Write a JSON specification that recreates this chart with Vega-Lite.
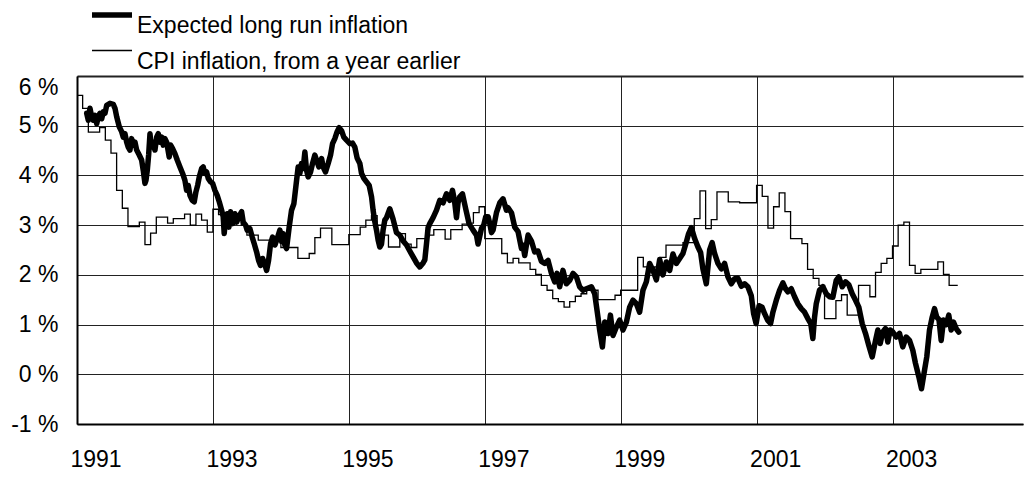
{
"$schema": "https://vega.github.io/schema/vega-lite/v6.json",
"width": 946, "height": 348,
"autosize": {"type": "none"},
"padding": {"left": 77, "top": 76, "right": 1, "bottom": 54},
"config": {"view": {"stroke": null}, "font": "Liberation Sans"},
"datasets": {
"cpi": [
{"t":1991.000,"v":5.61},{"t":1991.083,"v":5.35},{"t":1991.167,"v":4.87},{"t":1991.250,"v":4.87},{"t":1991.333,"v":4.96},{"t":1991.417,"v":4.71},{"t":1991.500,"v":4.45},{"t":1991.583,"v":3.70},{"t":1991.667,"v":3.34},{"t":1991.750,"v":2.97},{"t":1991.833,"v":2.97},{"t":1991.917,"v":3.06},
{"t":1992.000,"v":2.61},{"t":1992.083,"v":2.84},{"t":1992.167,"v":3.16},{"t":1992.250,"v":3.16},{"t":1992.333,"v":3.04},{"t":1992.417,"v":3.13},{"t":1992.500,"v":3.13},{"t":1992.583,"v":3.22},{"t":1992.667,"v":3.00},{"t":1992.750,"v":3.22},{"t":1992.833,"v":3.10},{"t":1992.917,"v":2.86},
{"t":1993.000,"v":3.32},{"t":1993.083,"v":3.21},{"t":1993.167,"v":3.10},{"t":1993.250,"v":3.20},{"t":1993.333,"v":3.20},{"t":1993.417,"v":3.00},{"t":1993.500,"v":2.80},{"t":1993.583,"v":2.80},{"t":1993.667,"v":2.70},{"t":1993.750,"v":2.70},{"t":1993.833,"v":2.70},{"t":1993.917,"v":2.70},
{"t":1994.000,"v":2.55},{"t":1994.083,"v":2.55},{"t":1994.167,"v":2.55},{"t":1994.250,"v":2.33},{"t":1994.333,"v":2.33},{"t":1994.417,"v":2.43},{"t":1994.500,"v":2.75},{"t":1994.583,"v":2.94},{"t":1994.667,"v":2.94},{"t":1994.750,"v":2.61},{"t":1994.833,"v":2.61},{"t":1994.917,"v":2.61},
{"t":1995.000,"v":2.81},{"t":1995.083,"v":2.81},{"t":1995.167,"v":2.96},{"t":1995.250,"v":3.10},{"t":1995.333,"v":3.19},{"t":1995.417,"v":3.00},{"t":1995.500,"v":2.80},{"t":1995.583,"v":2.56},{"t":1995.667,"v":2.56},{"t":1995.750,"v":2.83},{"t":1995.833,"v":2.62},{"t":1995.917,"v":2.55},
{"t":1996.000,"v":2.73},{"t":1996.083,"v":2.73},{"t":1996.167,"v":2.80},{"t":1996.250,"v":2.91},{"t":1996.333,"v":2.91},{"t":1996.417,"v":2.72},{"t":1996.500,"v":2.91},{"t":1996.583,"v":2.91},{"t":1996.667,"v":3.02},{"t":1996.750,"v":3.04},{"t":1996.833,"v":3.25},{"t":1996.917,"v":3.37},
{"t":1997.000,"v":2.73},{"t":1997.083,"v":2.73},{"t":1997.167,"v":2.73},{"t":1997.250,"v":2.43},{"t":1997.333,"v":2.24},{"t":1997.417,"v":2.33},{"t":1997.500,"v":2.24},{"t":1997.583,"v":2.24},{"t":1997.667,"v":2.11},{"t":1997.750,"v":2.01},{"t":1997.833,"v":1.79},{"t":1997.917,"v":1.69},
{"t":1998.000,"v":1.52},{"t":1998.083,"v":1.46},{"t":1998.167,"v":1.35},{"t":1998.250,"v":1.46},{"t":1998.333,"v":1.57},{"t":1998.417,"v":1.62},{"t":1998.500,"v":1.69},{"t":1998.583,"v":1.69},{"t":1998.667,"v":1.50},{"t":1998.750,"v":1.50},{"t":1998.833,"v":1.50},{"t":1998.917,"v":1.59},
{"t":1999.000,"v":1.69},{"t":1999.083,"v":1.69},{"t":1999.167,"v":1.69},{"t":1999.250,"v":2.35},{"t":1999.333,"v":2.16},{"t":1999.417,"v":2.10},{"t":1999.500,"v":2.16},{"t":1999.583,"v":2.35},{"t":1999.667,"v":2.60},{"t":1999.750,"v":2.60},{"t":1999.833,"v":2.60},{"t":1999.917,"v":2.65},
{"t":2000.000,"v":2.65},{"t":2000.083,"v":3.13},{"t":2000.167,"v":3.69},{"t":2000.250,"v":2.93},{"t":2000.333,"v":3.11},{"t":2000.417,"v":3.67},{"t":2000.500,"v":3.67},{"t":2000.583,"v":3.47},{"t":2000.667,"v":3.47},{"t":2000.750,"v":3.45},{"t":2000.833,"v":3.45},{"t":2000.917,"v":3.45},
{"t":2001.000,"v":3.80},{"t":2001.083,"v":3.58},{"t":2001.167,"v":2.94},{"t":2001.250,"v":3.37},{"t":2001.333,"v":3.65},{"t":2001.417,"v":3.27},{"t":2001.500,"v":2.73},{"t":2001.583,"v":2.73},{"t":2001.667,"v":2.63},{"t":2001.750,"v":2.11},{"t":2001.833,"v":1.93},{"t":2001.917,"v":1.79},
{"t":2002.000,"v":1.12},{"t":2002.083,"v":1.12},{"t":2002.167,"v":1.48},{"t":2002.250,"v":1.60},{"t":2002.333,"v":1.19},{"t":2002.417,"v":1.19},{"t":2002.500,"v":1.79},{"t":2002.583,"v":1.79},{"t":2002.667,"v":1.56},{"t":2002.750,"v":2.05},{"t":2002.833,"v":2.23},{"t":2002.917,"v":2.33},
{"t":2003.000,"v":2.58},{"t":2003.083,"v":3.00},{"t":2003.167,"v":3.06},{"t":2003.250,"v":2.19},{"t":2003.333,"v":2.03},{"t":2003.417,"v":2.11},{"t":2003.500,"v":2.11},{"t":2003.583,"v":2.11},{"t":2003.667,"v":2.26},{"t":2003.750,"v":2.01},{"t":2003.833,"v":1.79},{"t":2003.917,"v":1.79},{"t":2003.960,"v":1.79}
],
"exp": [
{"t":1991.143,"v":5.25},{"t":1991.166,"v":5.11},{"t":1991.191,"v":5.35},{"t":1991.216,"v":5.18},{"t":1991.240,"v":5.11},{"t":1991.265,"v":5.21},{"t":1991.290,"v":5.04},{"t":1991.313,"v":5.18},{"t":1991.338,"v":5.25},{"t":1991.363,"v":5.14},{"t":1991.387,"v":5.28},{"t":1991.412,"v":5.25},{"t":1991.437,"v":5.41},{"t":1991.485,"v":5.45},{"t":1991.534,"v":5.43},{"t":1991.559,"v":5.35},{"t":1991.584,"v":5.18},{"t":1991.622,"v":4.98},{"t":1991.657,"v":4.88},{"t":1991.681,"v":4.77},{"t":1991.706,"v":4.84},{"t":1991.731,"v":4.67},{"t":1991.754,"v":4.57},{"t":1991.779,"v":4.51},{"t":1991.804,"v":4.74},{"t":1991.828,"v":4.61},{"t":1991.853,"v":4.67},{"t":1991.878,"v":4.51},{"t":1991.916,"v":4.41},{"t":1991.951,"v":4.31},{"t":1991.975,"v":4.10},
{"t":1992.000,"v":3.84},{"t":1992.015,"v":3.90},{"t":1992.034,"v":4.10},{"t":1992.054,"v":4.41},{"t":1992.074,"v":4.84},{"t":1992.093,"v":4.57},{"t":1992.122,"v":4.67},{"t":1992.147,"v":4.51},{"t":1992.172,"v":4.77},{"t":1992.196,"v":4.84},{"t":1992.221,"v":4.67},{"t":1992.246,"v":4.77},{"t":1992.269,"v":4.61},{"t":1992.294,"v":4.74},{"t":1992.319,"v":4.67},{"t":1992.357,"v":4.37},{"t":1992.378,"v":4.61},{"t":1992.407,"v":4.54},{"t":1992.441,"v":4.44},{"t":1992.475,"v":4.31},{"t":1992.515,"v":4.17},{"t":1992.554,"v":4.04},{"t":1992.588,"v":3.90},{"t":1992.613,"v":3.70},{"t":1992.637,"v":3.80},{"t":1992.662,"v":3.60},{"t":1992.696,"v":3.50},{"t":1992.725,"v":3.47},{"t":1992.750,"v":3.67},{"t":1992.775,"v":3.80},{"t":1992.799,"v":3.97},{"t":1992.834,"v":4.14},{"t":1992.857,"v":4.17},{"t":1992.882,"v":4.04},{"t":1992.907,"v":4.07},{"t":1992.931,"v":3.94},{"t":1992.966,"v":3.87},{"t":1992.996,"v":3.84},
{"t":1993.029,"v":3.70},{"t":1993.063,"v":3.60},{"t":1993.093,"v":3.47},{"t":1993.128,"v":3.30},{"t":1993.151,"v":3.17},{"t":1993.166,"v":2.83},{"t":1993.187,"v":3.13},{"t":1993.210,"v":3.23},{"t":1993.235,"v":2.96},{"t":1993.260,"v":3.27},{"t":1993.290,"v":3.03},{"t":1993.324,"v":3.23},{"t":1993.349,"v":3.06},{"t":1993.382,"v":3.17},{"t":1993.422,"v":3.27},{"t":1993.446,"v":3.06},{"t":1993.481,"v":3.00},{"t":1993.504,"v":2.90},{"t":1993.544,"v":2.93},{"t":1993.578,"v":2.76},{"t":1993.607,"v":2.63},{"t":1993.643,"v":2.46},{"t":1993.672,"v":2.29},{"t":1993.701,"v":2.19},{"t":1993.731,"v":2.33},{"t":1993.760,"v":2.23},{"t":1993.790,"v":2.09},{"t":1993.819,"v":2.29},{"t":1993.849,"v":2.63},{"t":1993.878,"v":2.76},{"t":1993.912,"v":2.60},{"t":1993.946,"v":2.73},{"t":1993.985,"v":2.90},
{"t":1994.010,"v":2.67},{"t":1994.034,"v":2.83},{"t":1994.059,"v":2.60},{"t":1994.084,"v":2.53},{"t":1994.122,"v":2.96},{"t":1994.157,"v":3.30},{"t":1994.191,"v":3.43},{"t":1994.231,"v":3.90},{"t":1994.254,"v":4.17},{"t":1994.279,"v":4.04},{"t":1994.304,"v":4.24},{"t":1994.328,"v":4.14},{"t":1994.353,"v":4.47},{"t":1994.378,"v":4.10},{"t":1994.401,"v":3.97},{"t":1994.437,"v":4.07},{"t":1994.466,"v":4.24},{"t":1994.500,"v":4.41},{"t":1994.525,"v":4.31},{"t":1994.559,"v":4.17},{"t":1994.599,"v":4.34},{"t":1994.622,"v":4.17},{"t":1994.657,"v":4.07},{"t":1994.696,"v":4.24},{"t":1994.731,"v":4.41},{"t":1994.760,"v":4.64},{"t":1994.794,"v":4.74},{"t":1994.828,"v":4.88},{"t":1994.857,"v":4.96},{"t":1994.893,"v":4.90},{"t":1994.926,"v":4.77},{"t":1994.966,"v":4.71},
{"t":1995.015,"v":4.64},{"t":1995.054,"v":4.65},{"t":1995.088,"v":4.57},{"t":1995.122,"v":4.35},{"t":1995.162,"v":4.24},{"t":1995.187,"v":4.04},{"t":1995.221,"v":3.94},{"t":1995.260,"v":3.87},{"t":1995.299,"v":3.80},{"t":1995.334,"v":3.57},{"t":1995.357,"v":3.30},{"t":1995.378,"v":3.10},{"t":1995.407,"v":2.90},{"t":1995.431,"v":2.70},{"t":1995.456,"v":2.56},{"t":1995.481,"v":2.62},{"t":1995.504,"v":2.90},{"t":1995.529,"v":3.10},{"t":1995.554,"v":3.15},{"t":1995.603,"v":3.33},{"t":1995.651,"v":3.12},{"t":1995.701,"v":2.85},{"t":1995.750,"v":2.80},{"t":1995.799,"v":2.68},{"t":1995.849,"v":2.60},{"t":1995.897,"v":2.48},{"t":1995.946,"v":2.36},{"t":1995.996,"v":2.24},
{"t":1996.044,"v":2.16},{"t":1996.093,"v":2.24},{"t":1996.118,"v":2.30},{"t":1996.143,"v":2.63},{"t":1996.166,"v":2.95},{"t":1996.191,"v":3.03},{"t":1996.240,"v":3.15},{"t":1996.290,"v":3.30},{"t":1996.338,"v":3.50},{"t":1996.387,"v":3.45},{"t":1996.437,"v":3.63},{"t":1996.485,"v":3.50},{"t":1996.525,"v":3.70},{"t":1996.554,"v":3.50},{"t":1996.584,"v":3.15},{"t":1996.607,"v":3.45},{"t":1996.632,"v":3.57},{"t":1996.672,"v":3.63},{"t":1996.721,"v":3.32},{"t":1996.769,"v":3.03},{"t":1996.828,"v":2.90},{"t":1996.878,"v":2.80},{"t":1996.901,"v":2.62},{"t":1996.951,"v":2.93},{"t":1996.985,"v":3.00},
{"t":1997.015,"v":3.17},{"t":1997.049,"v":3.17},{"t":1997.074,"v":3.03},{"t":1997.099,"v":2.85},{"t":1997.122,"v":2.90},{"t":1997.172,"v":3.25},{"t":1997.221,"v":3.45},{"t":1997.269,"v":3.53},{"t":1997.319,"v":3.30},{"t":1997.343,"v":3.35},{"t":1997.393,"v":3.25},{"t":1997.441,"v":2.96},{"t":1997.490,"v":2.87},{"t":1997.540,"v":2.53},{"t":1997.563,"v":2.60},{"t":1997.588,"v":2.39},{"t":1997.637,"v":2.80},{"t":1997.687,"v":2.68},{"t":1997.735,"v":2.46},{"t":1997.784,"v":2.48},{"t":1997.834,"v":2.27},{"t":1997.882,"v":2.23},{"t":1997.931,"v":2.29},{"t":1997.981,"v":2.03},
{"t":1998.029,"v":1.86},{"t":1998.063,"v":2.03},{"t":1998.103,"v":1.76},{"t":1998.151,"v":2.09},{"t":1998.201,"v":1.82},{"t":1998.250,"v":1.89},{"t":1998.299,"v":2.03},{"t":1998.349,"v":1.96},{"t":1998.397,"v":1.76},{"t":1998.446,"v":1.69},{"t":1998.496,"v":1.72},{"t":1998.569,"v":1.76},{"t":1998.618,"v":1.62},{"t":1998.666,"v":1.15},{"t":1998.691,"v":0.89},{"t":1998.731,"v":0.55},{"t":1998.765,"v":1.05},{"t":1998.813,"v":0.82},{"t":1998.849,"v":1.19},{"t":1998.887,"v":0.78},{"t":1998.937,"v":0.95},{"t":1998.985,"v":1.09},
{"t":1999.034,"v":0.89},{"t":1999.084,"v":1.05},{"t":1999.132,"v":1.35},{"t":1999.181,"v":1.49},{"t":1999.231,"v":1.42},{"t":1999.279,"v":1.25},{"t":1999.328,"v":1.69},{"t":1999.378,"v":1.86},{"t":1999.426,"v":2.23},{"t":1999.475,"v":2.09},{"t":1999.525,"v":1.90},{"t":1999.574,"v":2.31},{"t":1999.622,"v":2.00},{"t":1999.672,"v":2.26},{"t":1999.721,"v":2.09},{"t":1999.769,"v":2.42},{"t":1999.819,"v":2.23},{"t":1999.868,"v":2.33},{"t":1999.916,"v":2.43},{"t":1999.966,"v":2.66},
{"t":2000.000,"v":2.83},{"t":2000.040,"v":2.95},{"t":2000.088,"v":2.73},{"t":2000.137,"v":2.56},{"t":2000.176,"v":2.45},{"t":2000.210,"v":2.12},{"t":2000.260,"v":1.82},{"t":2000.309,"v":2.50},{"t":2000.346,"v":2.65},{"t":2000.382,"v":2.43},{"t":2000.431,"v":2.23},{"t":2000.481,"v":2.12},{"t":2000.529,"v":2.23},{"t":2000.578,"v":1.96},{"t":2000.628,"v":1.82},{"t":2000.676,"v":1.92},{"t":2000.725,"v":1.93},{"t":2000.775,"v":1.77},{"t":2000.824,"v":1.82},{"t":2000.872,"v":1.76},{"t":2000.922,"v":1.58},{"t":2000.956,"v":1.22},{"t":2000.993,"v":1.02},
{"t":2001.037,"v":1.38},{"t":2001.081,"v":1.35},{"t":2001.118,"v":1.22},{"t":2001.162,"v":1.09},{"t":2001.206,"v":1.02},{"t":2001.240,"v":1.25},{"t":2001.290,"v":1.49},{"t":2001.338,"v":1.69},{"t":2001.387,"v":1.84},{"t":2001.426,"v":1.72},{"t":2001.460,"v":1.66},{"t":2001.510,"v":1.72},{"t":2001.559,"v":1.56},{"t":2001.607,"v":1.42},{"t":2001.657,"v":1.32},{"t":2001.706,"v":1.25},{"t":2001.754,"v":1.12},{"t":2001.797,"v":1.02},{"t":2001.828,"v":0.72},{"t":2001.853,"v":1.15},{"t":2001.878,"v":1.42},{"t":2001.926,"v":1.69},{"t":2001.975,"v":1.76},
{"t":2002.025,"v":1.62},{"t":2002.074,"v":1.56},{"t":2002.122,"v":1.55},{"t":2002.172,"v":1.89},{"t":2002.210,"v":1.96},{"t":2002.260,"v":1.76},{"t":2002.309,"v":1.86},{"t":2002.357,"v":1.80},{"t":2002.407,"v":1.62},{"t":2002.456,"v":1.49},{"t":2002.504,"v":1.35},{"t":2002.554,"v":1.02},{"t":2002.603,"v":0.82},{"t":2002.651,"v":0.58},{"t":2002.701,"v":0.35},{"t":2002.750,"v":0.68},{"t":2002.784,"v":0.89},{"t":2002.819,"v":0.62},{"t":2002.857,"v":0.85},{"t":2002.897,"v":0.92},{"t":2002.931,"v":0.65},{"t":2002.966,"v":0.89},
{"t":2003.004,"v":0.85},{"t":2003.054,"v":0.75},{"t":2003.103,"v":0.82},{"t":2003.151,"v":0.55},{"t":2003.201,"v":0.75},{"t":2003.250,"v":0.68},{"t":2003.299,"v":0.48},{"t":2003.338,"v":0.22},{"t":2003.387,"v":-0.05},{"t":2003.426,"v":-0.29},{"t":2003.471,"v":0.08},{"t":2003.504,"v":0.35},{"t":2003.544,"v":0.89},{"t":2003.584,"v":1.15},{"t":2003.618,"v":1.32},{"t":2003.651,"v":1.15},{"t":2003.684,"v":1.10},{"t":2003.716,"v":0.68},{"t":2003.750,"v":1.09},{"t":2003.790,"v":1.00},{"t":2003.828,"v":1.19},{"t":2003.863,"v":0.89},{"t":2003.897,"v":1.05},{"t":2003.937,"v":0.92},{"t":2003.975,"v":0.85}
]
},
"encoding": {
 "x": {"field": "t", "type": "quantitative",
   "scale": {"domain": [1991, 2004.92], "nice": false, "zero": false},
   "axis": {"title": null, "values": [1991, 1993, 1995, 1997, 1999, 2001, 2003], "format": "d",
     "grid": true, "gridColor": "#222222", "gridWidth": 1,
     "domainColor": "black", "domainWidth": 2, "ticks": false,
     "labelFontSize": 23, "labelColor": "black", "labelFont": "Liberation Sans",
     "labelAlign": "left", "labelOffset": -7, "labelPadding": 24, "labelFlush": false}},
 "y": {"field": "v", "type": "quantitative",
   "scale": {"domain": [-1, 6], "nice": false, "zero": false},
   "axis": {"title": null, "values": [-1, 0, 1, 2, 3, 4, 5, 6], "labelExpr": "datum.value + ' %'",
     "grid": true, "gridColor": "#222222",
     "gridWidth": {"condition": {"test": "datum.value == 6", "value": 2}, "value": 1},
     "domainColor": "black", "domainWidth": 2, "ticks": false,
     "labelFontSize": 23, "labelColor": "black", "labelFont": "Liberation Sans", "labelPadding": 19,
     "labelBaseline": {"condition": {"test": "datum.value == 6", "value": "top"}, "value": "middle"},
     "labelFlush": false}}
},
"layer": [
 {"data": {"name": "cpi"},
  "mark": {"type": "line", "interpolate": "step-after", "color": "black"},
  "encoding": {"strokeWidth": {"datum": "CPI inflation, from a year earlier", "type": "ordinal",
     "scale": {"type": "ordinal", "domain": ["Expected long run inflation", "CPI inflation, from a year earlier"], "range": [5.5, 1.3]},
     "legend": {"orient": "none", "legendX": 22, "legendY": -74, "title": null, "symbolType": "M-2,0H2", "symbolSize": 400,
       "symbolStrokeColor": "black", "symbolFillColor": "transparent", "labelFontSize": 23, "labelColor": "black", "labelFont": "Liberation Sans",
       "labelOffset": 12, "labelBaseline": "top", "rowPadding": 1, "labelLimit": 600}}}},
 {"data": {"name": "exp"},
  "mark": {"type": "line", "color": "black", "strokeWidth": 5.5, "strokeJoin": "round", "strokeCap": "round"},
  "encoding": {}}
]
}
